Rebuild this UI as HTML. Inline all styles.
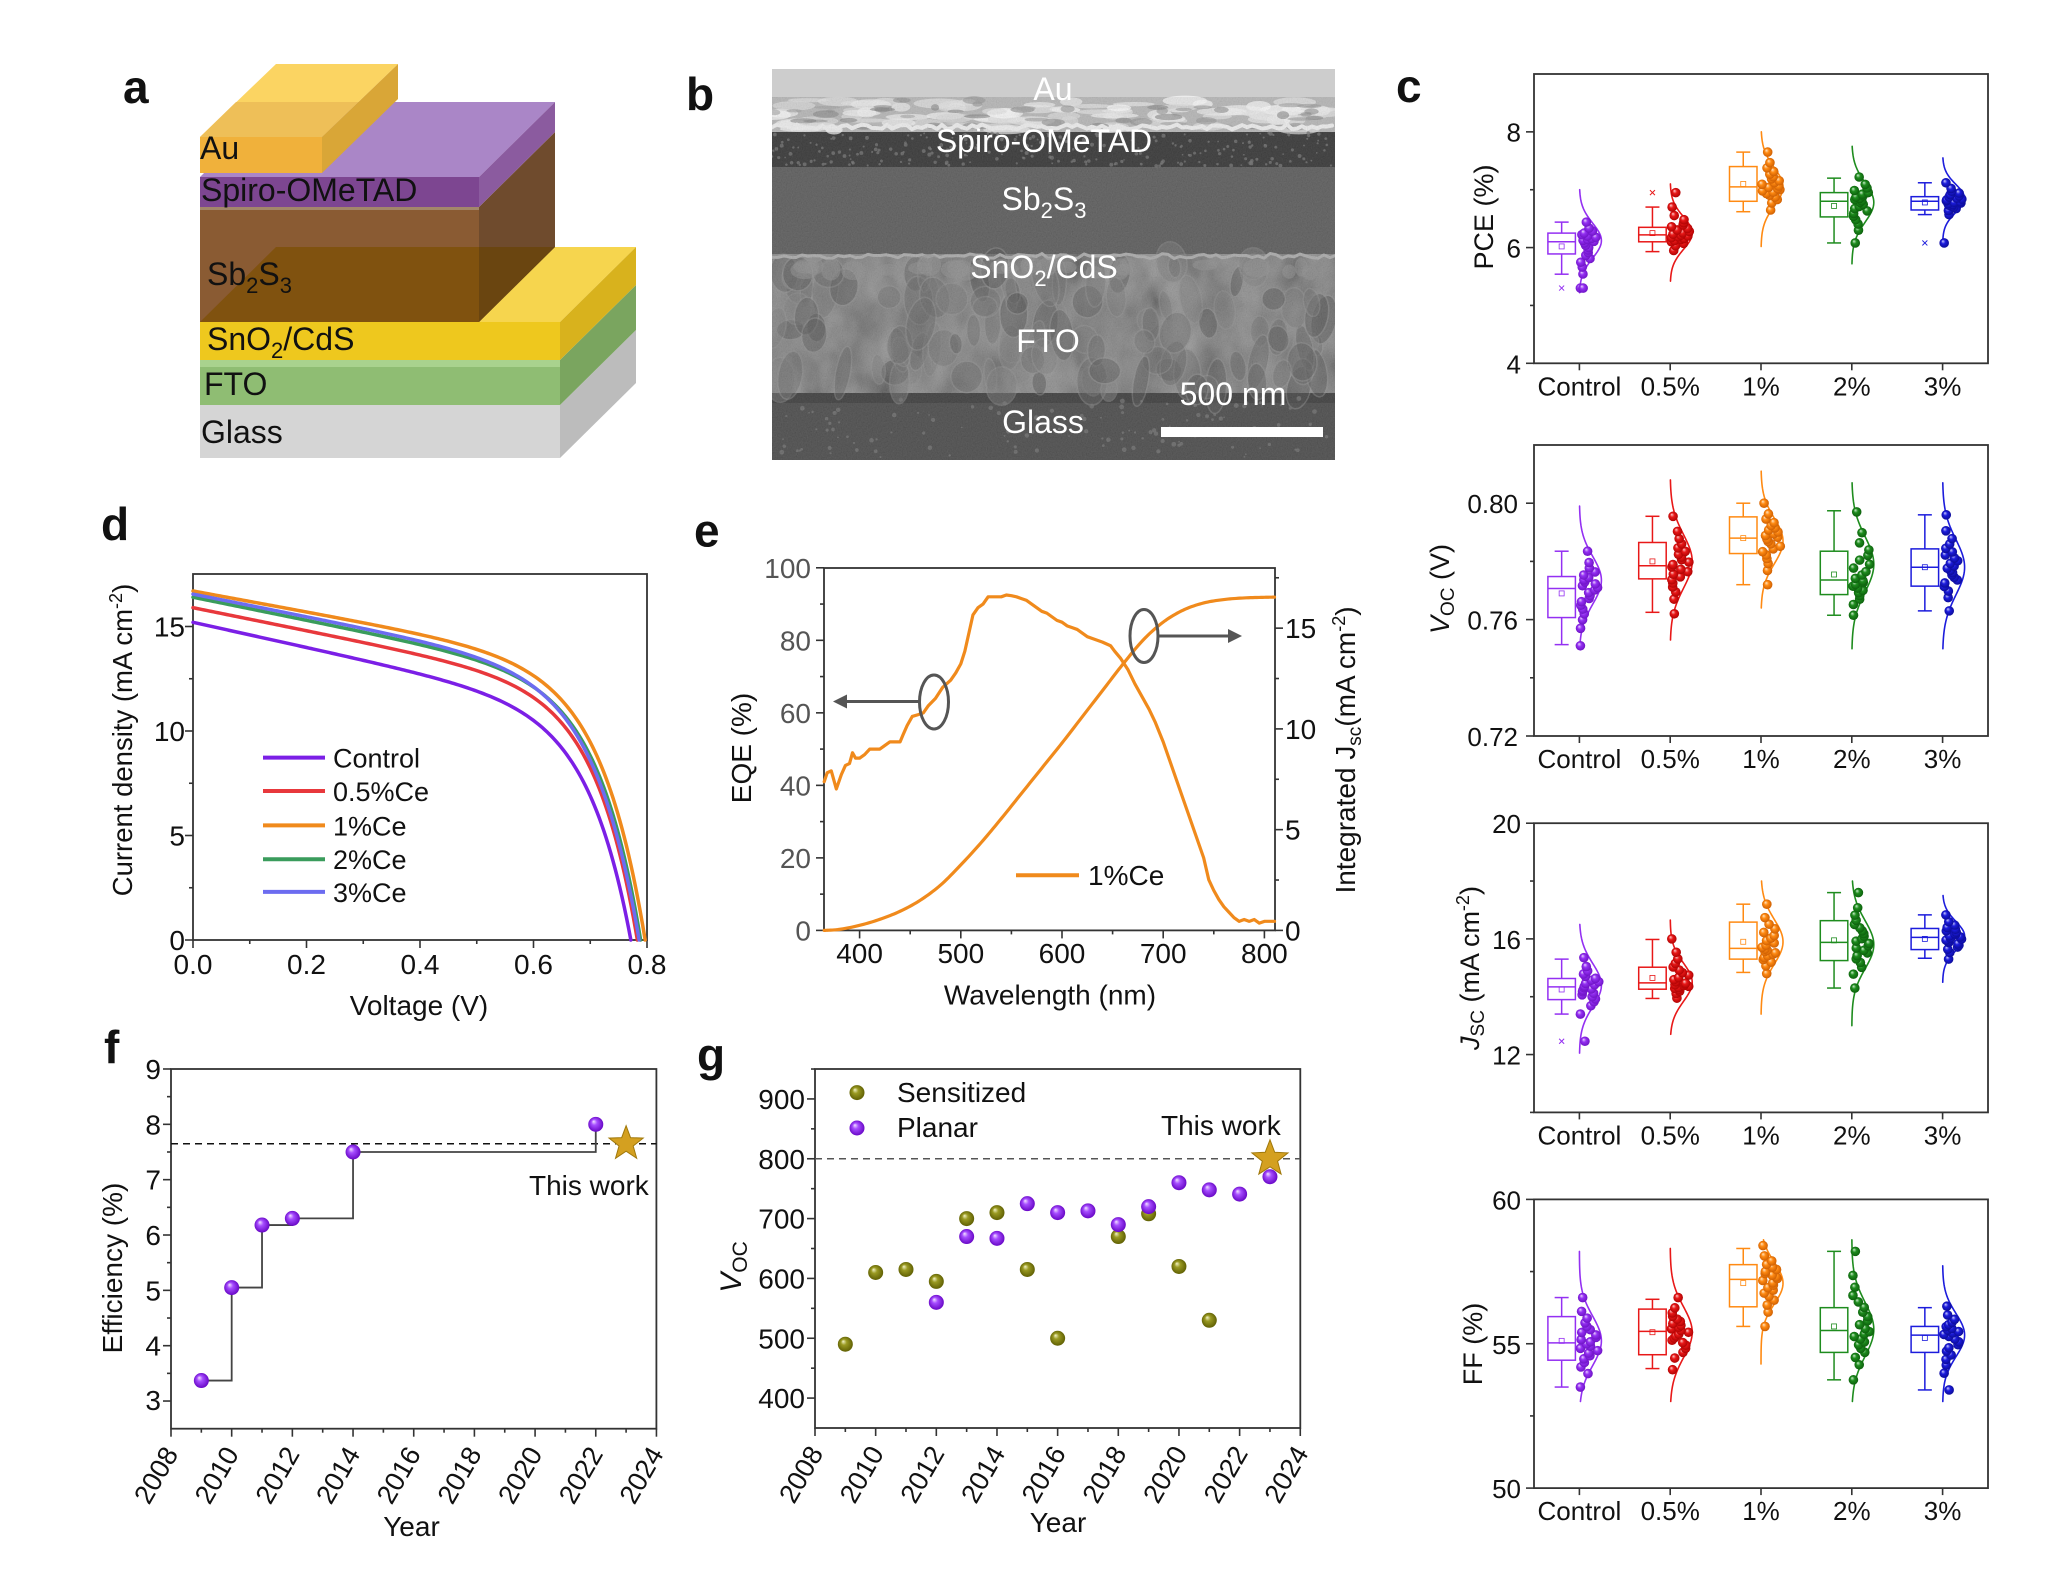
<!DOCTYPE html>
<html><head><meta charset="utf-8">
<style>
html,body{margin:0;padding:0;background:#fff;}
svg{display:block;}
text{font-family:"Liberation Sans",Arial,sans-serif;fill:#111;}
</style></head><body>
<svg id="s" xmlns="http://www.w3.org/2000/svg" width="2048" height="1575" viewBox="0 0 2048 1575">
<defs>
<clipPath id="semclip"><rect x="772" y="69" width="563" height="391"/></clipPath>
<filter id="fn" x="0" y="0" width="100%" height="100%"><feTurbulence type="fractalNoise" baseFrequency="0.8" numOctaves="2" seed="5"/><feColorMatrix type="matrix" values="0.45 0.45 0.45 0 -0.2 0.45 0.45 0.45 0 -0.2 0.45 0.45 0.45 0 -0.2 0 0 0 0 1"/></filter>
<filter id="fg" x="0" y="0" width="100%" height="100%"><feTurbulence type="fractalNoise" baseFrequency="0.03 0.02" numOctaves="3" seed="8"/><feColorMatrix type="matrix" values="0.6 0.6 0.6 0 -0.45 0.6 0.6 0.6 0 -0.45 0.6 0.6 0.6 0 -0.45 0 0 0 0 1"/></filter>
<radialGradient id="sp" cx="0.5" cy="0.5" r="0.55" fx="0.35" fy="0.3"><stop offset="0" stop-color="#f4e4ff"/><stop offset="0.35" stop-color="#a64dff"/><stop offset="1" stop-color="#6200c0"/></radialGradient>
<radialGradient id="so" cx="0.5" cy="0.5" r="0.55" fx="0.35" fy="0.3"><stop offset="0" stop-color="#f4f4c8"/><stop offset="0.35" stop-color="#9a9a22"/><stop offset="1" stop-color="#5a5a00"/></radialGradient>
<radialGradient id="dg0" cx="0.5" cy="0.5" r="0.55" fx="0.35" fy="0.3"><stop offset="0" stop-color="#ecd8ff"/><stop offset="0.4" stop-color="#9430f2"/><stop offset="1" stop-color="#6a10c0"/></radialGradient>
<radialGradient id="dg1" cx="0.5" cy="0.5" r="0.55" fx="0.35" fy="0.3"><stop offset="0" stop-color="#ffd0d0"/><stop offset="0.4" stop-color="#e81818"/><stop offset="1" stop-color="#a80000"/></radialGradient>
<radialGradient id="dg2" cx="0.5" cy="0.5" r="0.55" fx="0.35" fy="0.3"><stop offset="0" stop-color="#ffe8c8"/><stop offset="0.4" stop-color="#ff8a12"/><stop offset="1" stop-color="#c85a00"/></radialGradient>
<radialGradient id="dg3" cx="0.5" cy="0.5" r="0.55" fx="0.35" fy="0.3"><stop offset="0" stop-color="#d0f0d0"/><stop offset="0.4" stop-color="#1e8c1e"/><stop offset="1" stop-color="#0a5a0a"/></radialGradient>
<radialGradient id="dg4" cx="0.5" cy="0.5" r="0.55" fx="0.35" fy="0.3"><stop offset="0" stop-color="#d0d0ff"/><stop offset="0.4" stop-color="#1c1cdc"/><stop offset="1" stop-color="#0a0a90"/></radialGradient>
</defs>
<rect x="0" y="0" width="2048" height="1575" fill="#fff"/>

<!-- Panel a: device stack -->
<g>
<rect x="200" y="405" width="360" height="53" fill="#d5d5d5"/>
<polygon points="560,405 636,330 636,383 560,458" fill="#bcbcbc"/>
<rect x="200" y="360" width="360" height="45" fill="#8fbd73"/>
<rect x="200" y="360" width="360" height="7" fill="#a9d28e"/>
<polygon points="560,360 636,285 636,330 560,405" fill="#7aa55f"/>
<polygon points="200,322 560,322 636,247 276,247" fill="#f6d54e"/>
<rect x="200" y="322" width="360" height="38" fill="#eec81e"/>
<polygon points="560,322 636,247 636,285 560,360" fill="#d8b21d"/>
<rect x="200" y="207" width="279" height="115" fill="#8a5b33"/>
<polygon points="200,322 479,322 479,247 276,247" fill="#80520f"/>
<polygon points="479,207 555,132 555,247 479,322" fill="#6f4b2d"/>
<polygon points="479,247 479,322 555,247" fill="#6a4510"/>
<rect x="200" y="206" width="279" height="4" fill="#a3866a"/>
<polygon points="200,177 479,177 555,102 276,102" fill="#aa86c7"/>
<rect x="200" y="177" width="279" height="30" fill="#7d4691"/>
<polygon points="479,177 555,102 555,132 479,207" fill="#8b5b9f"/>
<polygon points="200,137 322,137 398,64 276,64" fill="#fbd462"/>
<polygon points="236,102 358,102 322,137 200,137" fill="#eebf58"/>
<rect x="200" y="137" width="122" height="36" fill="#f0b13b"/>
<polygon points="322,137 398,64 398,99 322,173" fill="#d9a637"/>
</g>
<text x="123" y="103" font-size="46" font-weight="bold">a</text>
<text x="200" y="159" font-size="32">Au</text>
<text x="201" y="201" font-size="32">Spiro-OMeTAD</text>
<text x="207" y="285" font-size="32">Sb<tspan dy="8" font-size="22">2</tspan><tspan dy="-8">S</tspan><tspan dy="8" font-size="22">3</tspan></text>
<text x="207" y="350" font-size="32">SnO<tspan dy="8" font-size="22">2</tspan><tspan dy="-8">/CdS</tspan></text>
<text x="204" y="395" font-size="32">FTO</text>
<text x="201" y="443" font-size="32">Glass</text>

<!-- Panel b: SEM -->
<text x="686" y="110" font-size="46" font-weight="bold">b</text>
<g clip-path="url(#semclip)">
<rect x="772" y="69" width="563" height="30" fill="#cdcdcd"/>
<rect x="772" y="97" width="563" height="35" fill="#b4b4b4"/>
<rect x="772" y="132" width="563" height="35" fill="#303030"/>
<rect x="772" y="167" width="563" height="87" fill="#575757"/>
<rect x="772" y="254" width="563" height="139" fill="#686868"/>
<rect x="772" y="254" width="563" height="139" filter="url(#fg)" opacity="0.35"/>
<rect x="772" y="393" width="563" height="10" fill="#383838"/>
<rect x="772" y="403" width="563" height="57" fill="#464646"/>
<g id="semdyn"></g>
<rect x="772" y="97" width="563" height="363" filter="url(#fn)" opacity="0.15"/>
</g>
<g>
<text x="1053" y="100" font-size="32" text-anchor="middle" style="fill:#fff">Au</text>
<text x="1044" y="152" font-size="32" text-anchor="middle" style="fill:#fff">Spiro-OMeTAD</text>
<text x="1044" y="210" font-size="32" text-anchor="middle" style="fill:#fff">Sb<tspan dy="8" font-size="22">2</tspan><tspan dy="-8">S</tspan><tspan dy="8" font-size="22">3</tspan></text>
<text x="1044" y="278" font-size="32" text-anchor="middle" style="fill:#fff">SnO<tspan dy="8" font-size="22">2</tspan><tspan dy="-8">/CdS</tspan></text>
<text x="1048" y="352" font-size="32" text-anchor="middle" style="fill:#fff">FTO</text>
<text x="1043" y="433" font-size="32" text-anchor="middle" style="fill:#fff">Glass</text>
<text x="1233" y="405" font-size="32" text-anchor="middle" style="fill:#fff">500 nm</text>
<rect x="1161" y="427" width="162" height="10" fill="#fff"/>
</g>

<g id="dyn"></g>

<!-- Panel d texts -->
<text x="101" y="540" font-size="46" font-weight="bold">d</text>
<g font-size="28" text-anchor="middle">
<text x="193" y="974">0.0</text><text x="306.5" y="974">0.2</text><text x="420" y="974">0.4</text><text x="533.5" y="974">0.6</text><text x="647" y="974">0.8</text>
<text x="419" y="1015">Voltage (V)</text>
</g>
<g font-size="28" text-anchor="end">
<text x="185" y="950">0</text><text x="185" y="845.5">5</text><text x="185" y="741">10</text><text x="185" y="636.5">15</text>
</g>
<text transform="translate(132,740) rotate(-90)" text-anchor="middle" font-size="27.5">Current density (mA cm<tspan dy="-10" font-size="18">-2</tspan><tspan dy="10">)</tspan></text>
<g font-size="27">
<text x="333" y="767.6">Control</text><text x="333" y="801">0.5%Ce</text><text x="333" y="835.4">1%Ce</text><text x="333" y="869.2">2%Ce</text><text x="333" y="901.9">3%Ce</text>
</g>

<!-- Panel e texts -->
<text x="694" y="546.5" font-size="46" font-weight="bold">e</text>
<g font-size="28" text-anchor="middle">
<text x="859.6" y="963">400</text><text x="960.8" y="963">500</text><text x="1062" y="963">600</text><text x="1163.2" y="963">700</text><text x="1264.4" y="963">800</text>
<text x="1050" y="1004.5">Wavelength (nm)</text>
</g>
<g font-size="28" text-anchor="end">
<text x="811" y="940.4" style="fill:#555">0</text><text x="811" y="867.9" style="fill:#555">20</text><text x="811" y="795.4" style="fill:#555">40</text><text x="811" y="722.8" style="fill:#555">60</text><text x="811" y="650.3" style="fill:#555">80</text><text x="811" y="577.8" style="fill:#555">100</text>
</g>
<g font-size="28">
<text x="1285" y="940.4">0</text><text x="1285" y="839.6">5</text><text x="1285" y="738.9">10</text><text x="1285" y="638.1">15</text>
</g>
<text transform="translate(751,748) rotate(-90)" text-anchor="middle" font-size="28">EQE (%)</text>
<text transform="translate(1355,750) rotate(-90)" text-anchor="middle" font-size="28">Integrated J<tspan dy="6" font-size="19">sc</tspan><tspan dy="-6">(mA cm</tspan><tspan dy="-10" font-size="18">-2</tspan><tspan dy="10">)</tspan></text>
<text x="1088" y="885" font-size="28">1%Ce</text>
<g fill="none" stroke="#555" stroke-width="3">
<ellipse cx="934" cy="702" rx="14.5" ry="27"/>
<ellipse cx="1144" cy="636" rx="14" ry="26.5"/>
<line x1="919.5" y1="701.5" x2="842" y2="701.5"/>
<line x1="1158" y1="636" x2="1232" y2="636"/>
</g>
<polygon points="833,701.5 847,694.5 847,708.5" fill="#555"/>
<polygon points="1242,636 1228,629 1228,643" fill="#555"/>

<!-- Panel f texts -->
<text x="104" y="1063" font-size="46" font-weight="bold">f</text>
<g font-size="28" text-anchor="end">
<text x="161" y="1410">3</text><text x="161" y="1355.7">4</text><text x="161" y="1300.3">5</text><text x="161" y="1245">6</text><text x="161" y="1189.7">7</text><text x="161" y="1134.3">8</text><text x="161" y="1079">9</text>
</g>
<g font-size="27" text-anchor="end">
<text transform="translate(179,1453.7) rotate(-60)">2008</text>
<text transform="translate(239.7,1453.7) rotate(-60)">2010</text>
<text transform="translate(300.4,1453.7) rotate(-60)">2012</text>
<text transform="translate(361,1453.7) rotate(-60)">2014</text>
<text transform="translate(421.7,1453.7) rotate(-60)">2016</text>
<text transform="translate(482.4,1453.7) rotate(-60)">2018</text>
<text transform="translate(543.1,1453.7) rotate(-60)">2020</text>
<text transform="translate(603.8,1453.7) rotate(-60)">2022</text>
<text transform="translate(664.4,1453.7) rotate(-60)">2024</text>
</g>
<text transform="translate(122,1268) rotate(-90)" text-anchor="middle" font-size="28">Efficiency (%)</text>
<text x="411.5" y="1536" text-anchor="middle" font-size="28">Year</text>
<text x="529" y="1195" font-size="28">This work</text>

<!-- Panel g texts -->
<text x="697" y="1071" font-size="46" font-weight="bold">g</text>
<g font-size="28" text-anchor="end">
<text x="805" y="1408">400</text><text x="805" y="1348.3">500</text><text x="805" y="1288.5">600</text><text x="805" y="1228.6">700</text><text x="805" y="1168.8">800</text><text x="805" y="1109">900</text>
</g>
<g font-size="27" text-anchor="end">
<text transform="translate(824,1453) rotate(-60)">2008</text>
<text transform="translate(884.7,1453) rotate(-60)">2010</text>
<text transform="translate(945.3,1453) rotate(-60)">2012</text>
<text transform="translate(1006,1453) rotate(-60)">2014</text>
<text transform="translate(1066.6,1453) rotate(-60)">2016</text>
<text transform="translate(1127.3,1453) rotate(-60)">2018</text>
<text transform="translate(1188,1453) rotate(-60)">2020</text>
<text transform="translate(1248.6,1453) rotate(-60)">2022</text>
<text transform="translate(1309.3,1453) rotate(-60)">2024</text>
</g>
<text transform="translate(741,1267) rotate(-90)" text-anchor="middle" font-size="30"><tspan font-style="italic">V</tspan><tspan font-size="21" dy="6">OC</tspan></text>
<text x="1058" y="1532" text-anchor="middle" font-size="28">Year</text>
<text x="897" y="1102" font-size="28">Sensitized</text>
<text x="897" y="1137" font-size="28">Planar</text>
<text x="1161" y="1135" font-size="28">This work</text>

<!-- Panel c texts -->
<text x="1396" y="102" font-size="46" font-weight="bold">c</text>
<g font-size="26" text-anchor="middle">
<text x="1579.4" y="395.3">Control</text><text x="1670.2" y="395.3">0.5%</text><text x="1761" y="395.3">1%</text><text x="1851.8" y="395.3">2%</text><text x="1942.6" y="395.3">3%</text>
<text x="1579.4" y="768">Control</text><text x="1670.2" y="768">0.5%</text><text x="1761" y="768">1%</text><text x="1851.8" y="768">2%</text><text x="1942.6" y="768">3%</text>
<text x="1579.4" y="1144.4">Control</text><text x="1670.2" y="1144.4">0.5%</text><text x="1761" y="1144.4">1%</text><text x="1851.8" y="1144.4">2%</text><text x="1942.6" y="1144.4">3%</text>
<text x="1579.4" y="1520.1">Control</text><text x="1670.2" y="1520.1">0.5%</text><text x="1761" y="1520.1">1%</text><text x="1851.8" y="1520.1">2%</text><text x="1942.6" y="1520.1">3%</text>
</g>
<g font-size="26" text-anchor="end">
<text x="1521" y="373.3">4</text><text x="1521" y="257.4">6</text><text x="1521" y="141.6">8</text>
<text x="1518" y="746">0.72</text><text x="1518" y="629.6">0.76</text><text x="1518" y="513.2">0.80</text>
<text x="1521" y="1064.6">12</text><text x="1521" y="948.9">16</text><text x="1521" y="833.2">20</text>
<text x="1521" y="1498">50</text><text x="1521" y="1353.8">55</text><text x="1521" y="1209.4">60</text>
</g>
<text transform="translate(1493,217) rotate(-90)" text-anchor="middle" font-size="27">PCE (%)</text>
<text transform="translate(1449,589) rotate(-90)" text-anchor="middle" font-size="27"><tspan font-style="italic">V</tspan><tspan font-size="19" dy="5">OC</tspan><tspan dy="-5"> (V)</tspan></text>
<text transform="translate(1479,968) rotate(-90)" text-anchor="middle" font-size="27"><tspan font-style="italic">J</tspan><tspan font-size="19" dy="5">SC</tspan><tspan dy="-5"> (mA cm</tspan><tspan dy="-10" font-size="18">-2</tspan><tspan dy="10">)</tspan></text>
<text transform="translate(1482,1344) rotate(-90)" text-anchor="middle" font-size="27">FF (%)</text>
</svg>
<script>
(function(){
const NS='http://www.w3.org/2000/svg';
const dyn=document.getElementById('dyn');
const semg=document.getElementById('semdyn');
function E(tag,a,p){const e=document.createElementNS(NS,tag);for(const k in a)e.setAttribute(k,a[k]);(p||dyn).appendChild(e);return e;}
function L(x1,y1,x2,y2,c,w,extra){const a={x1:x1,y1:y1,x2:x2,y2:y2,stroke:c||'#333','stroke-width':w||1.8};if(extra)Object.assign(a,extra);return E('line',a);}
function P(pts,c,w,extra,par){const d='M'+pts.map(p=>p[0].toFixed(2)+','+p[1].toFixed(2)).join('L');const a={d:d,fill:'none',stroke:c,'stroke-width':w,'stroke-linejoin':'round','stroke-linecap':'round'};if(extra)Object.assign(a,extra);return E('path',a,par);}
function frame(x0,y0,x1,y1){E('rect',{x:x0,y:y0,width:x1-x0,height:y1-y0,fill:'none',stroke:'#333','stroke-width':1.8});}
function xt(y,xs,len){xs.forEach(x=>L(x,y,x,y+len,'#333',1.6));}
function ylt(x,ys,len){ys.forEach(y=>L(x-len,y,x,y,'#333',1.6));}
function yrt(x,ys,len){ys.forEach(y=>L(x,y,x+len,y,'#333',1.6));}
function rng(s){return function(){s=(s*16807)%2147483647;return (s-1)/2147483646;};}
function star(cx,cy,R,r,fill){const pts=[];for(let i=0;i<10;i++){const a=-Math.PI/2+i*Math.PI/5;const rr=i%2?r:R;pts.push((cx+rr*Math.cos(a)).toFixed(1)+','+(cy+rr*Math.sin(a)).toFixed(1));}E('polygon',{points:pts.join(' '),fill:fill,stroke:'#a0780a','stroke-width':1});}
function range(a,b,s){const r=[];for(let v=a;v<=b+1e-9;v+=s)r.push(v);return r;}

// SEM texture
const R=rng(12345);
// Au band: wavy bright streaks
for(let i=0;i<90;i++){const x=772+R()*563,y=100+R()*30;const g=215+Math.floor(R()*40);E('ellipse',{cx:x,cy:y,rx:8+R()*18,ry:2+R()*3.5,fill:'rgb('+g+','+g+','+g+')',opacity:0.7},semg);}
for(let i=0;i<50;i++){const x=772+R()*563,y=100+R()*28;const g=120+Math.floor(R()*40);E('ellipse',{cx:x,cy:y,rx:4+R()*10,ry:1.5+R()*2.5,fill:'rgb('+g+','+g+','+g+')',opacity:0.6},semg);}
{const pts=[];for(let x=772;x<=1336;x+=5)pts.push([x,127+(R()-0.5)*5]);P(pts,'#ececec',4,null,semg);}
// Spiro speckle
for(let i=0;i<260;i++){const x=772+R()*563,y=133+R()*33;E('circle',{cx:x,cy:y,r:0.8+R()*1.2,fill:'#6a6a6a',opacity:0.8},semg);}
// FTO grains
for(let i=0;i<110;i++){const x=772+R()*563,y=262+R()*128;const g=R()<0.7?(95+Math.floor(R()*35)):(70+Math.floor(R()*20));E('ellipse',{cx:x,cy:y,rx:6+R()*10,ry:10+R()*18,fill:'rgb('+g+','+g+','+g+')',stroke:'#8e8e8e','stroke-width':1.5,opacity:0.45,transform:'rotate('+((R()-0.5)*30).toFixed(1)+' '+x.toFixed(1)+' '+y.toFixed(1)+')'},semg);}
{const pts=[];for(let x=772;x<=1336;x+=6)pts.push([x,256+(R()-0.5)*5]);P(pts,'#a8a8a8',3,null,semg);}
for(let i=0;i<26;i++){const x=772+R()*563;E('ellipse',{cx:x,cy:264+R()*10,rx:6+R()*9,ry:5+R()*6,fill:'#8c8c8c',opacity:0.55},semg);}
// glass speckle
for(let i=0;i<120;i++){const x=772+R()*563,y=398+R()*60;E('circle',{cx:x,cy:y,r:0.8+R()*1.6,fill:'#707070',opacity:0.7},semg);}

// Panel d
frame(193,574,647,940);
const dX=v=>193+v/0.8*454, dY=j=>940-j*20.9;
xt(940,[0,.2,.4,.6,.8].map(dX),8); xt(940,[.1,.3,.5,.7].map(dX),4);
ylt(193,[0,5,10,15].map(dY),8); ylt(193,[2.5,7.5,12.5].map(dY),4);
const jv=[['#7b1fe6',15.2,6.0,3.96e-4,.0757],['#e8383c',15.9,5.5,3.25e-4,.0747],['#f08a1c',16.7,5.0,5.3e-4,.079],['#3a9c5c',16.4,5.5,3.6e-4,.0757],['#6c6cf0',16.55,5.4,6.4e-4,.0797]];
const Jf=(p,V)=>p[1]-p[2]*V-p[3]*(Math.exp(V/p[4])-1);
jv.forEach(p=>{const pts=[];for(let V=0;V<0.9;V+=0.004){const J=Jf(p,V);if(J<=0){const Vp=V-0.004,Jp=Jf(p,Vp);const Vr=Vp+0.004*Jp/(Jp-J);pts.push([dX(Vr),dY(0)]);break;}pts.push([dX(V),dY(J)]);}P(pts,p[0],3.5);});
[757.6,791,825.4,859.2,891.9].forEach((y,i)=>L(263,y,325,y,jv[i][0],4));

// Panel e
frame(824,568,1275,930.4);
const eX=nm=>859.6+(nm-400)*1.012, eL=p=>930.4-p*3.626, eR=j=>930.4-j*20.15;
xt(930.4,[400,500,600,700,800].map(eX),8); xt(930.4,[450,550,650,750].map(eX),4);
ylt(824,[0,20,40,60,80,100].map(eL),8); ylt(824,[10,30,50,70,90].map(eL),4);
yrt(1275,[0,5,10,15].map(eR),8); yrt(1275,[2.5,7.5,12.5,17.5].map(eR),4);
const eqe=[[365,41],[368,43.5],[372,44],[377,39],[382,43],[386,45.5],[390,46],[393,49],[396,47.5],[400,47.5],[405,48.5],[410,50],[415,50],[420,50],[425,51],[430,52],[435,52],[440,52],[443,54],[447,56.5],[452,59],[458,59.5],[463,60],[468,62],[475,64],[482,67],[490,69],[495,71],[500,73.5],[504,77],[508,82],[512,87],[517,89],[522,90],[527,92],[535,92],[540,92],[545,92.5],[550,92.3],[555,92],[560,91.5],[565,91],[570,90],[575,89],[580,88],[585,87.5],[590,86.5],[595,85.5],[600,85],[605,84],[610,83.5],[615,83],[620,82],[625,81],[630,80.5],[640,79.5],[648,78.5],[652,77],[658,75],[665,72],[672,68],[680,64],[686,61],[692,57.5],[700,52],[710,44],[720,36],[730,28],[740,20],[745,14],[750,11],[755,8.5],[760,6.5],[765,5],[770,3.5],[775,2.5],[780,3],[785,2.5],[790,3],[795,2],[800,2.5],[805,2.5],[810,2.5]];
P(eqe.map(p=>[eX(p[0]),eL(p[1])]),'#f08a1c',3.2);
const ij=[[365,0],[380,0.05],[400,0.25],[420,0.55],[440,0.95],[460,1.5],[480,2.25],[500,3.25],[520,4.35],[540,5.55],[560,6.8],[580,8.05],[600,9.3],[620,10.6],[640,11.9],[660,13.2],[680,14.4],[700,15.3],[720,15.9],[740,16.25],[760,16.42],[780,16.5],[800,16.53],[810,16.54]];
(function(){const pts=[];for(let i=0;i<ij.length-1;i++){const a=ij[i],b=ij[i+1],a0=ij[i-1]||a,b1=ij[i+2]||b;for(let t=0;t<1;t+=0.1){const t2=t*t,t3=t2*t;const f=(p0,p1,p2,p3)=>0.5*((2*p1)+(-p0+p2)*t+(2*p0-5*p1+4*p2-p3)*t2+(-p0+3*p1-3*p2+p3)*t3);pts.push([eX(f(a0[0],a[0],b[0],b1[0])),eR(f(a0[1],a[1],b[1],b1[1]))]);}}pts.push([eX(810),eR(16.54)]);P(pts,'#f08a1c',3.2);})();
L(1016,875.3,1079,875.3,'#f08a1c',4);

// Panel f
frame(171,1069,656.4,1428.7);
const fX=y=>171+(y-2008)*30.34, fY=e=>1428.7-(e-2.5)*55.34;
xt(1428.7,range(2008,2024,2).map(fX),8); xt(1428.7,range(2009,2023,2).map(fX),4);
ylt(171,range(3,9,1).map(fY),8); ylt(171,range(3.5,8.5,1).map(fY),4);
L(171,fY(7.65),656.4,fY(7.65),'#111',1.5,{'stroke-dasharray':'7,5'});
const fd=[[2009,3.37],[2010,5.05],[2011,6.18],[2012,6.3],[2014,7.5],[2022,8.0]];
{let d='M'+fX(fd[0][0])+','+fY(fd[0][1]);for(let i=1;i<fd.length;i++){d+=' H'+fX(fd[i][0])+' V'+fY(fd[i][1]);}E('path',{d:d,fill:'none',stroke:'#444','stroke-width':1.8});}
fd.forEach(p=>E('circle',{cx:fX(p[0]),cy:fY(p[1]),r:7.5,fill:'url(#sp)'}));
star(fX(2023),fY(7.65),18,7.5,'#d4a020');

// Panel g
frame(815,1069,1300.3,1428);
const gX=y=>815+(y-2008)*30.33, gY=v=>1428-(v-350)*0.5983;
xt(1428,range(2008,2024,2).map(gX),8); xt(1428,range(2009,2023,2).map(gX),4);
ylt(815,range(400,900,100).map(gY),8); ylt(815,range(450,950,100).map(gY),4);
L(815,gY(800),1300.3,gY(800),'#555',1.5,{'stroke-dasharray':'7,5'});
const sens=[[2009,490],[2010,610],[2011,615],[2012,595],[2013,700],[2014,710],[2015,615],[2016,500],[2018,670],[2019,708],[2020,620],[2021,530]];
const plan=[[2012,560],[2013,670],[2014,667],[2015,725],[2016,710],[2017,713],[2018,690],[2019,720],[2020,760],[2021,748],[2022,741],[2023,770]];
sens.forEach(p=>E('circle',{cx:gX(p[0]),cy:gY(p[1]),r:7.5,fill:'url(#so)'}));
plan.forEach(p=>E('circle',{cx:gX(p[0]),cy:gY(p[1]),r:7.5,fill:'url(#sp)'}));
E('circle',{cx:857,cy:1092.6,r:7.5,fill:'url(#so)'});
E('circle',{cx:857,cy:1128,r:7.5,fill:'url(#sp)'});
star(gX(2023),gY(800),19,8,'#d4a020');

// Panel c
const cx=[0,1,2,3,4].map(i=>1534+90.8*(i+0.5));
const cols=['#9430f2','#e81818','#ff8a12','#1e8c1e','#1c1cdc'];
function probit(t){return 0.607*Math.log(t/(1-t));}
function boxplot(Yf,y0,y1,D,seed,ymaj,ymin){
  frame(1534,y0,1988,y1);
  xt(y1,cx,7);
  ylt(1534,ymaj.map(Yf),8); ylt(1534,ymin.map(Yf),4);
  const rr=rng(seed);
  D.forEach((d,i)=>{
    const t=cx[i],c=cols[i];
    const bx0=t-31.5,bx1=t-4,bm=(bx0+bx1)/2;
    L(bm,Yf(d.w[1]),bm,Yf(d.q[2]),c,1.5); L(bm,Yf(d.q[0]),bm,Yf(d.w[0]),c,1.5);
    L(bm-7,Yf(d.w[1]),bm+7,Yf(d.w[1]),c,1.5); L(bm-7,Yf(d.w[0]),bm+7,Yf(d.w[0]),c,1.5);
    E('rect',{x:bx0,y:Yf(d.q[2]),width:bx1-bx0,height:Yf(d.q[0])-Yf(d.q[2]),fill:'none',stroke:c,'stroke-width':1.5});
    L(bx0,Yf(d.q[1]),bx1,Yf(d.q[1]),c,1.5);
    E('rect',{x:bm-2.5,y:Yf(d.m)-2.5,width:5,height:5,fill:'none',stroke:c,'stroke-width':0.8});
    (d.o||[]).forEach(v=>{const y=Yf(v);L(bm-2.5,y-2.5,bm+2.5,y+2.5,c,1);L(bm-2.5,y+2.5,bm+2.5,y-2.5,c,1);});
    const pts=[];const r0=d.r[0],r1=d.r[1];
    for(let k=0;k<=80;k++){const v=r0+(r1-r0)*k/80;pts.push([t+22*Math.exp(-(v-d.mu)*(v-d.mu)/(2*d.s*d.s)),Yf(v)]);}
    P(pts,c,1.6);
    const n=22,zmax=probit((n-0.5)/n),med=d.q[1];
    const vals=[];
    for(let k=0;k<n;k++){const z=probit((k+0.5)/n);let v=z<0?med+z/zmax*(med-d.d[0]):med+z/zmax*(d.d[1]-med);vals.push(v);}
    (d.o||[]).forEach(v=>vals.push(v));
    vals.forEach(v=>{const w=Math.max(0.3,Math.exp(-(v-d.mu)*(v-d.mu)/(2*d.s*d.s)));const x=t+1+rr()*19*w;E('circle',{cx:x,cy:Yf(v),r:4.8,fill:'url(#dg'+i+')'});});
  });
}
boxplot(v=>363.3-(v-4)*57.86,74,363.3,[
 {q:[5.89,6.1,6.25],w:[5.54,6.44],m:6.02,o:[5.3],mu:6.12,s:.3,r:[5.22,7.0],d:[5.3,6.44]},
 {q:[6.1,6.22,6.35],w:[5.93,6.7],m:6.25,o:[6.95],mu:6.25,s:.28,r:[5.42,7.1],d:[5.95,6.7]},
 {q:[6.8,7.05,7.4],w:[6.62,7.65],m:7.1,o:[],mu:7.05,s:.33,r:[6.02,8.0],d:[6.65,7.65]},
 {q:[6.53,6.8,6.95],w:[6.08,7.2],m:6.72,o:[],mu:6.78,s:.34,r:[5.72,7.75],d:[6.08,7.22]},
 {q:[6.65,6.8,6.88],w:[6.57,7.12],m:6.78,o:[6.08],mu:6.85,s:.24,r:[6.1,7.55],d:[6.57,7.12]}],11,[4,6,8],[5,7]);
boxplot(v=>736-(v-0.72)*2910,445,736,[
 {q:[.7607,.7707,.7748],w:[.7514,.7835],m:.769,o:[],mu:.7735,s:.0082,r:[.7505,.799],d:[.751,.7835]},
 {q:[.774,.7785,.7865],w:[.7625,.7955],m:.780,o:[],mu:.780,s:.0092,r:[.753,.808],d:[.762,.7955]},
 {q:[.7827,.788,.7953],w:[.772,.800],m:.788,o:[],mu:.787,s:.0078,r:[.764,.811],d:[.772,.800]},
 {q:[.7686,.7736,.7835],w:[.7615,.7974],m:.7755,o:[],mu:.779,s:.0095,r:[.750,.807],d:[.7615,.797]},
 {q:[.7715,.778,.7843],w:[.763,.796],m:.778,o:[],mu:.778,s:.0095,r:[.750,.807],d:[.763,.796]}],23,[.72,.76,.80],[.74,.78]);
boxplot(v=>1112.4-(v-10)*28.92,823.2,1112.4,[
 {q:[13.9,14.34,14.63],w:[13.4,15.3],m:14.25,o:[12.46],mu:14.4,s:.75,r:[12.05,16.5],d:[13.4,15.35]},
 {q:[14.26,14.48,15.02],w:[13.94,15.98],m:14.65,o:[],mu:14.5,s:.66,r:[12.7,16.65],d:[13.95,16.0]},
 {q:[15.3,15.67,16.58],w:[14.84,17.2],m:15.9,o:[],mu:15.9,s:.77,r:[13.4,18.0],d:[14.8,17.2]},
 {q:[15.25,15.88,16.63],w:[14.3,17.6],m:15.95,o:[],mu:15.8,s:.83,r:[13.0,18.0],d:[14.3,17.6]},
 {q:[15.63,16.05,16.36],w:[15.33,16.83],m:16.0,o:[],mu:16.1,s:.5,r:[14.5,17.5],d:[15.3,16.83]}],37,[12,16,20],[10,14,18]);
boxplot(v=>1488.1-(v-50)*28.87,1199.4,1488.1,[
 {q:[54.43,55.03,55.94],w:[53.5,56.6],m:55.1,o:[],mu:55.1,s:.85,r:[53.0,58.2],d:[53.5,56.6]},
 {q:[54.62,55.43,56.2],w:[54.14,56.54],m:55.4,o:[],mu:55.4,s:.88,r:[53.0,58.3],d:[54.1,56.6]},
 {q:[56.28,57.23,57.74],w:[55.6,58.3],m:57.1,o:[],mu:57.1,s:.72,r:[54.3,58.6],d:[55.6,58.4]},
 {q:[54.7,55.46,56.25],w:[53.75,58.2],m:55.6,o:[],mu:55.5,s:.93,r:[53.0,58.6],d:[53.75,58.2]},
 {q:[54.7,55.3,55.6],w:[53.4,56.25],m:55.2,o:[],mu:55.3,s:.75,r:[53.0,57.7],d:[53.4,56.3]}],53,[50,55,60],[52.5,57.5]);
})();
</script>
</body></html>
